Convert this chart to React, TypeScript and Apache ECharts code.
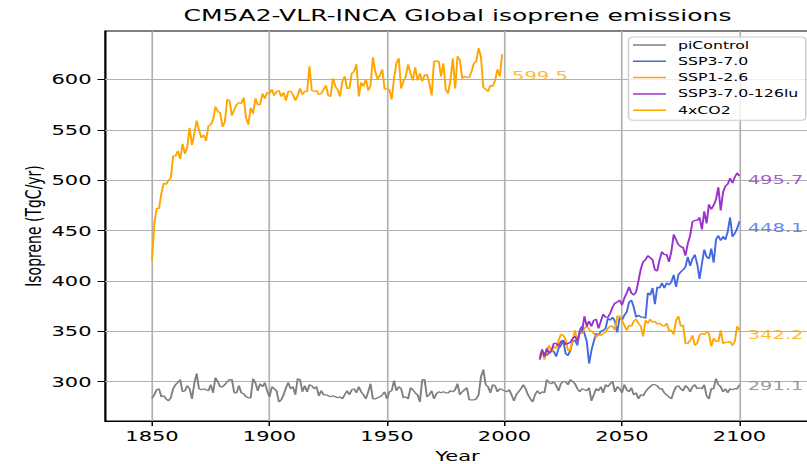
import React, { useEffect, useRef } from "react";
import * as echarts from "echarts";

const BASE_W = 538;
const H = 464;
const SCALE_X = 807 / BASE_W;
const FONT = "DejaVu Sans";

const X_TICKS = [1850, 1900, 1950, 2000, 2050, 2100];
const Y_TICKS = [300, 350, 400, 450, 500, 550, 600];

const SERIES_NAMES = ["piControl", "SSP3-7.0", "SSP1-2.6", "SSP3-7.0-126lu", "4xCO2"];
const COLORS = ["#808080", "#4169e1", "#ffa500", "#9932cc", "#ffa500"];

const PICONTROL_START = 1850;
const piControl = [
  283.5, 287, 292, 293, 285, 286, 283, 281, 284, 293,
  297, 299, 302, 290, 291, 296, 293, 283, 298, 308,
  293, 292, 293, 292, 291, 297, 289, 304, 300, 295,
  295, 297, 300, 302, 302, 289, 289, 296, 289, 288,
  285, 284, 284, 303, 299, 291, 298, 295, 299, 291,
  285, 295, 293, 291, 280, 282, 287, 294, 299, 293,
  295, 287, 303, 302, 290, 296, 290, 297, 296, 293,
  295, 286, 291, 287, 287, 286, 285, 286, 285, 284,
  285, 283, 287, 291, 287, 292, 293, 289, 295, 290,
  287, 283, 290, 298, 283, 283, 284, 285, 287, 290,
  283, 290, 291, 301, 291, 295, 293, 284, 285, 283,
  294, 292, 289, 287, 280, 302, 302, 285, 287, 291,
  283, 288, 290, 289, 290, 289, 289, 291, 290, 292,
  298, 287, 290, 292, 294, 282, 282, 282, 283, 287,
  305, 312, 297, 295, 289, 297, 296, 290, 293, 292,
  291, 290, 292, 287, 281, 287, 290, 293, 297, 293,
  287, 283, 280, 287, 291, 288, 290, 289, 302, 299,
  298, 300, 296, 291, 298, 300, 300, 297, 302, 300,
  298, 293, 290, 293, 292, 291, 294, 281, 287, 293,
  291, 295, 289, 297, 295, 298, 300, 290, 295, 293,
  289, 297, 292, 290, 294, 287, 289, 283, 287, 286,
  290, 293, 295, 297, 297, 296, 293, 293, 289, 287,
  285, 283, 290, 295, 296, 293, 291, 296, 294, 290,
  295, 297, 293, 294, 293, 297, 286, 283, 293, 293,
  303, 297, 295, 290, 293, 289, 293, 292, 293, 293,
  297,
];

const CO2X4_START = 1850;
const co2x4 = [
  420, 457, 472, 472, 487, 497, 496, 500, 502, 524,
  524, 529, 521, 536, 526, 533, 552, 535, 546, 559,
  550, 542, 545, 539, 554, 555, 560, 573, 568, 567,
  553, 558, 580, 579, 564, 570, 575, 577, 576, 582,
  562, 555, 572, 566, 581, 575, 575, 586, 581, 587,
  586, 590, 584, 588, 589, 583, 587, 579, 588, 588,
  585, 579, 584, 591, 585, 588, 588, 613, 589, 588,
  589, 585, 586, 590, 594, 584, 583, 601, 593, 590,
  583, 598, 603, 591, 591, 606, 608, 615, 583, 597,
  593, 600, 589, 594, 622, 608, 600, 604, 610, 590,
  591, 590, 580, 601, 616, 621, 591, 598, 603, 615,
  606, 599, 612, 599, 606, 598, 604, 605, 596, 584,
  618, 618, 618, 603, 616, 590, 586, 599, 621, 591,
  623, 619, 601, 603, 602, 602, 608, 616, 618, 631,
  622, 592, 590, 588, 594, 593, 599, 610, 603, 625,
];

const SCEN_START = 2015;
const ssp370 = [
  323, 330, 328, 326, 329, 331, 330, 325, 333, 336,
  341, 328, 326, 331, 340, 341, 336, 351, 355, 348,
  340, 318, 331, 340, 348, 346, 350, 351, 353, 363,
  361, 364, 360, 349, 364, 361, 366, 369, 379, 381,
  374, 364, 366, 364, 364, 363, 388, 386, 393, 377,
  394, 393, 398, 393, 398, 396, 399, 406, 394, 406,
  409, 411, 414, 424, 415, 422, 426, 417, 402, 417,
  431, 424, 422, 432, 418, 441, 445, 440, 444, 441,
  449, 463, 444, 447, 452, 459,
];
const ssp126 = [
  326, 331, 322, 331, 336, 329, 335, 333, 341, 347,
  346, 342, 331, 331, 341, 351, 340, 348, 348, 353,
  355, 352, 350, 348, 344, 347, 346, 348, 349, 353,
  355, 355, 351, 365, 365, 361, 356, 351, 356, 355,
  360, 362, 358, 355, 345, 361, 358, 362, 359, 360,
  357, 358, 356, 355, 358, 351, 351, 347, 361, 365,
  355, 356, 338, 338, 341, 346, 336, 338, 346, 348,
  347, 349, 348, 335, 343, 340, 340, 351, 338, 339,
  339, 340, 336, 340, 355, 351,
];
const ssp370lu = [
  322, 332, 325, 333, 328, 331, 338, 338, 335, 340,
  341, 337, 338, 339, 343, 345, 340, 349, 350, 365,
  355, 360, 355, 361, 362, 353, 360, 367, 364, 364,
  368, 374, 378, 379, 381, 376, 383, 388, 394, 388,
  386, 389, 400, 412, 419, 421, 425, 423, 421, 411,
  410, 421, 429, 426, 426, 419, 429, 446, 441, 436,
  434, 433, 425, 437, 445, 459, 460, 460, 463, 451,
  469, 457, 476, 471, 475, 481, 493, 470, 488, 494,
  496, 502, 497, 503, 507, 504,
];

// annotation values (mean) and their x anchor years
const END_LABEL_TEXT = ["291.1", "448.1", "342.2", "495.7", "599.5"];
const END_LABEL_VALUE = [291.1, 448.1, 342.2, 495.7, 599.5];
const END_LABEL_YEAR = [2103.5, 2103.5, 2103.5, 2103.5, 2003.2];

const toPairs = (start: number, vals: number[]) => vals.map((v, i) => [start + i, v]);

function buildOption() {
  const dataSets = [
    toPairs(PICONTROL_START, piControl),
    toPairs(SCEN_START, ssp370),
    toPairs(SCEN_START, ssp126),
    toPairs(SCEN_START, ssp370lu),
    toPairs(CO2X4_START, co2x4),
  ];

  const lineSeries = SERIES_NAMES.map((name, i) => ({
    name,
    type: "line",
    data: dataSets[i],
    showSymbol: false,
    symbol: "none",
    z: 2,
    lineStyle: { color: COLORS[i], width: 1.3 },
    itemStyle: { color: COLORS[i] },
  }));

  const labelSeries = END_LABEL_TEXT.map((txt, i) => ({
    name: "label-" + SERIES_NAMES[i],
    type: "scatter",
    symbolSize: 0,
    z: 3,
    silent: true,
    data: [[END_LABEL_YEAR[i], END_LABEL_VALUE[i]]],
    label: {
      show: true,
      formatter: txt,
      position: "right",
      distance: 0,
      offset: [0, -4.5],
      color: COLORS[i],
      fontSize: 13,
      fontFamily: FONT,
    },
  }));

  const gridSeries = {
    name: "grid-lines",
    type: "line",
    data: [],
    silent: true,
    markLine: {
      silent: true,
      z: 1,
      symbol: ["none", "none"],
      label: { show: false },
      emphasis: { disabled: true },
      lineStyle: { color: "#b0b0b0", width: 1.1, type: "solid" },
      data: [
        ...X_TICKS.map((x) => ({ xAxis: x })),
        ...Y_TICKS.map((y) => ({ yAxis: y })),
      ],
    },
  };

  return {
    animation: false,
    backgroundColor: "#ffffff",
    textStyle: { fontFamily: FONT },
    title: {
      text: "CM5A2-VLR-INCA Global isoprene emissions",
      left: 305,
      top: 7,
      textAlign: "center",
      padding: 0,
      textStyle: { fontSize: 16.7, fontWeight: "normal", fontFamily: FONT, color: "#000" },
    },
    grid: {
      left: 70,
      right: -2,
      top: 31,
      bottom: 43,
      outerBoundsMode: "none",
      containLabel: false,
      show: true,
      borderColor: "#000",
      borderWidth: 1,
      backgroundColor: "transparent",
    },
    legend: {
      orient: "vertical",
      left: 419,
      top: 37,
      data: SERIES_NAMES.map((n) => ({ name: n, icon: "rect" })),
      itemWidth: 22,
      itemHeight: 1.5,
      itemGap: 4.3,
      padding: [2, 5, 4, 3],
      selectedMode: false,
      backgroundColor: "rgba(255,255,255,0.8)",
      borderColor: "#cccccc",
      borderWidth: 1,
      borderRadius: 3,
      z: 10,
      textStyle: { fontSize: 10.5, fontFamily: FONT, color: "#000", lineHeight: 12, padding: [0, 0, 0, 3] },
    },
    xAxis: {
      type: "value",
      min: 1830,
      max: 2130,
      name: "Year",
      nameLocation: "middle",
      nameGap: 28,
      nameMoveOverlap: false,
      nameTextStyle: { fontSize: 14, color: "#000", fontFamily: FONT },
      axisLine: { show: true, lineStyle: { color: "#000", width: 1 } },
      axisTick: { show: true, length: 5, customValues: X_TICKS, lineStyle: { color: "#000" } },
      axisLabel: {
        show: true,
        customValues: X_TICKS,
        formatter: (v: number) => String(v),
        margin: 8,
        fontSize: 14,
        color: "#000",
        fontFamily: FONT,
      },
      splitLine: { show: false },
    },
    yAxis: {
      type: "value",
      min: 261,
      max: 648,
      name: "Isoprene (TgC/yr)",
      nameLocation: "middle",
      nameRotate: 90,
      nameGap: 41,
      nameMoveOverlap: false,
      nameTextStyle: { fontSize: 14, color: "#000", fontFamily: FONT },
      axisLine: { show: true, lineStyle: { color: "#000", width: 1 } },
      axisTick: { show: true, length: 5, customValues: Y_TICKS, lineStyle: { color: "#000" } },
      axisLabel: {
        show: true,
        customValues: Y_TICKS,
        formatter: (v: number) => String(v),
        margin: 9,
        fontSize: 14,
        color: "#000",
        fontFamily: FONT,
      },
      splitLine: { show: false },
    },
    series: [gridSeries, ...lineSeries, ...labelSeries],
  };
}

export default function App() {
  const ref = useRef<HTMLDivElement>(null);
  useEffect(() => {
    document.body.style.margin = "0";
    const el = ref.current;
    if (!el) return;
    const chart = echarts.init(el, undefined, { renderer: "svg", width: BASE_W, height: H });
    chart.setOption(buildOption() as any);
    return () => chart.dispose();
  }, []);
  return (
    <div style={{ position: "absolute", left: 0, top: 0, width: 807, height: H, overflow: "hidden", background: "#fff" }}>
      <div
        ref={ref}
        style={{ width: BASE_W, height: H, transform: `scaleX(${SCALE_X})`, transformOrigin: "0 0" }}
      />
    </div>
  );
}
